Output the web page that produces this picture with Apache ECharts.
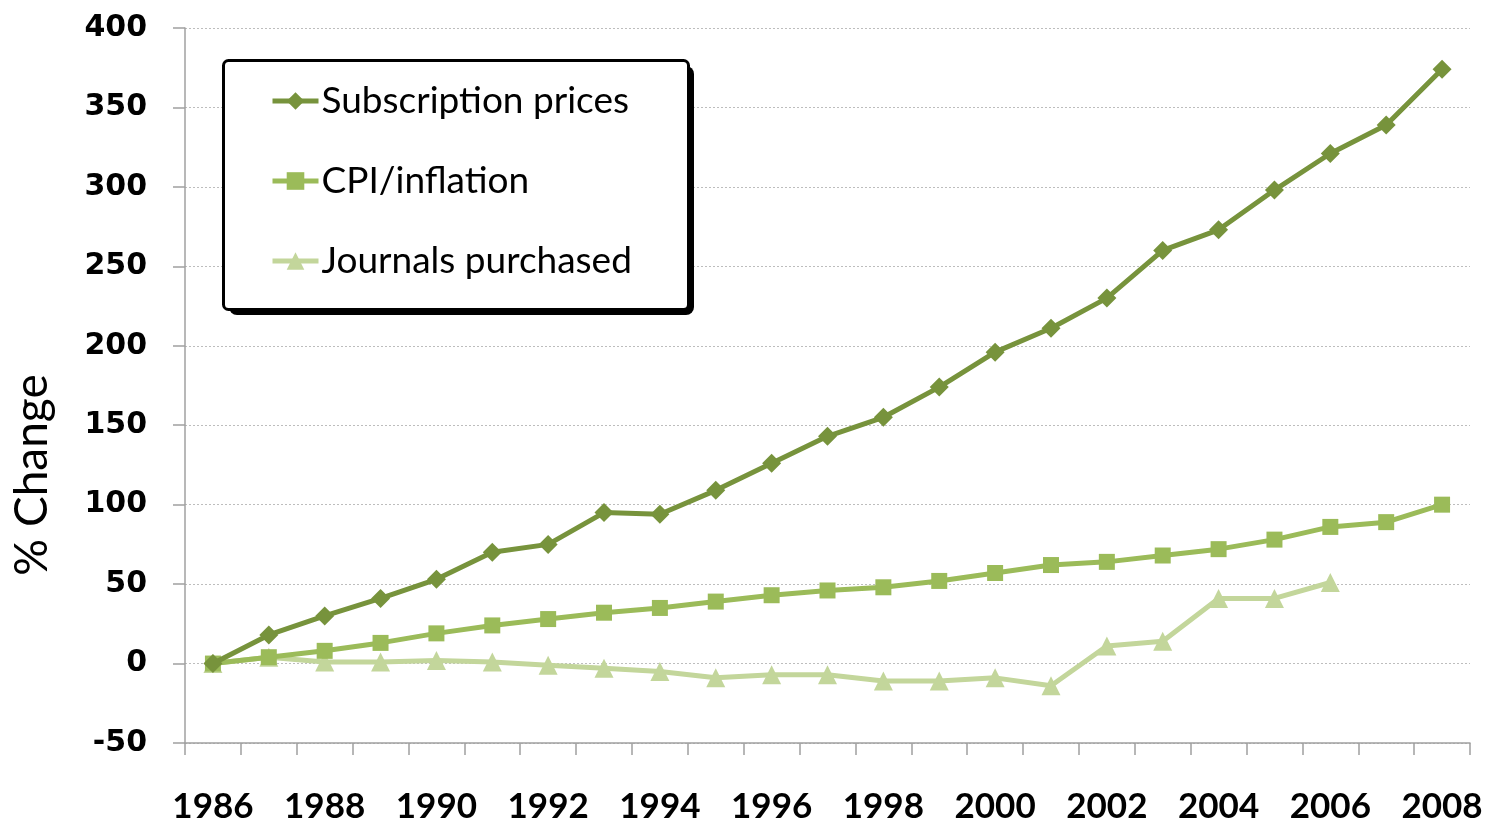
<!DOCTYPE html>
<html>
<head>
<meta charset="utf-8">
<script src="https://cdn.jsdelivr.net/npm/echarts@6/dist/echarts.min.js"></script>
<style>html,body{margin:0;padding:0;background:#fff}#c{width:1489px;height:828px}</style>
</head>
<body>
<div id="c"></div>
<script>
const years = ['1986','1987','1988','1989','1990','1991','1992','1993','1994','1995','1996','1997','1998','1999','2000','2001','2002','2003','2004','2005','2006','2007','2008'];
const subscriptionPrices = [0,18,30,41,53,70,75,95,94,109,126,143,155,174,196,211,230,260,273,298,321,339,374];
const cpiInflation = [0,4,8,13,19,24,28,32,35,39,43,46,48,52,57,62,64,68,72,78,86,89,100];
const journalsPurchased = [0,4,1,1,2,1,-1,-3,-5,-9,-7,-7,-11,-11,-9,-14,11,14,41,41,51,null,null];
const seriesNames = ['Subscription prices','CPI/inflation','Journals purchased'];
const yAxisTitle = '% Change';
const yMin = -50, yMax = 400, yStep = 50;

const chart = echarts.init(document.getElementById('c'));
const colors = ['#77933C','#9BBB59','#C3D69B'];
chart.setOption({
  animation:false,
  backgroundColor:'#fff',
  grid:{left:185,right:19,top:28,bottom:85,containLabel:false,outerBoundsMode:'none'},
  graphic:[
    {type:'rect', left:229, top:66, z:10, shape:{width:465,height:249,r:8}, style:{fill:'#000'}},
    {type:'rect', left:222, top:59, z:11, shape:{width:465,height:249,r:5}, style:{fill:'#fff',stroke:'#000',lineWidth:3}},
    {type:'text', x:32, y:475, rotation:Math.PI/2, z:5,
     style:{text:yAxisTitle, fontFamily:'Lato', fontSize:46, fill:'#000', align:'center', verticalAlign:'middle'}}
  ],
  legend:{
    left:270, top:80, padding:0, orient:'vertical', itemGap:38, itemWidth:46, itemHeight:22, z:20,
    lineStyle:{width:5},
    textStyle:{fontFamily:'Lato',fontSize:37,lineHeight:42,color:'#000',padding:[0,0,0,-2]},
    data:seriesNames
  },
  xAxis:{
    type:'category', data:years, boundaryGap:true,
    axisLine:{onZero:false,lineStyle:{color:'#A0A0A0',width:1.5}},
    axisTick:{show:true,interval:0,length:12,lineStyle:{color:'#A0A0A0',width:1.5}},
    axisLabel:{interval:1,margin:46,fontFamily:'Lato',fontWeight:'bold',fontSize:35,color:'#000'},
    splitLine:{show:false}
  },
  yAxis:{
    type:'value', min:yMin, max:yMax, interval:yStep,
    axisLine:{show:true,lineStyle:{color:'#A0A0A0',width:1.5}},
    axisTick:{show:true,length:12,lineStyle:{color:'#A0A0A0',width:1.5}},
    axisLabel:{margin:38,fontFamily:'DejaVu Sans',fontWeight:'bold',fontSize:30,color:'#000'},
    splitLine:{show:true,lineStyle:{color:'#BDBDBD',type:[2,2],width:1}}
  },
  series:[
    {name:seriesNames[0],type:'line',data:subscriptionPrices,symbol:'diamond',symbolSize:19,
     lineStyle:{width:5,color:colors[0]},itemStyle:{color:colors[0]},z:5},
    {name:seriesNames[1],type:'line',data:cpiInflation,symbol:'rect',symbolSize:16,
     lineStyle:{width:5,color:colors[1]},itemStyle:{color:colors[1]},z:4},
    {name:seriesNames[2],type:'line',data:journalsPurchased,symbol:'triangle',symbolSize:19,connectNulls:false,
     lineStyle:{width:5,color:colors[2]},itemStyle:{color:colors[2]},z:3}
  ]
});
</script>
</body>
</html>
